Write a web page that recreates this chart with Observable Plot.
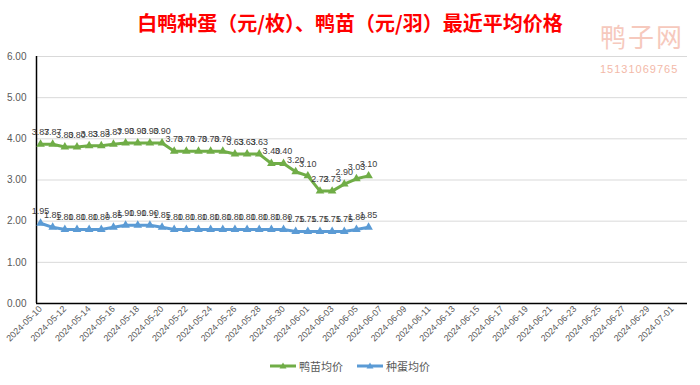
<!DOCTYPE html>
<html><head><meta charset="utf-8">
<script src="https://cdn.jsdelivr.net/npm/d3@7"></script>
<script src="https://cdn.jsdelivr.net/npm/@observablehq/plot@0.6"></script>
<style>
body{margin:0;background:#fff;width:700px;height:385px;overflow:hidden;position:relative;font-family:"Liberation Sans","Noto Sans CJK SC",sans-serif;}
#title{height:40px;line-height:46px;text-align:center;color:#ff0000;font-weight:bold;font-size:20px;font-family:"Noto Sans CJK SC",sans-serif;letter-spacing:0px;}
#legend{height:35px;display:flex;justify-content:center;align-items:center;gap:14px;font-size:11px;color:#595959;font-family:"Noto Sans CJK SC",sans-serif;padding-left:0px;margin-top:-2px}
.item{display:flex;align-items:center;gap:3px}
#wm{position:absolute;left:600px;top:22px;color:#f6c9bd;font-size:26px;font-family:"Noto Sans CJK SC",sans-serif;letter-spacing:2px;line-height:28px}
#wm2{position:absolute;left:600px;top:63px;color:#f3b9a8;font-size:11px;letter-spacing:1px}
</style></head>
<body>
<div id="title">白鸭种蛋（元/枚）、鸭苗（元/羽）最近平均价格</div>
<div id="chart"></div>
<div id="legend"></div>
<div id="wm">鸭子网</div>
<div id="wm2">15131069765</div>
<script>
const dates = ["2024-05-10","2024-05-11","2024-05-12","2024-05-13","2024-05-14","2024-05-15","2024-05-16","2024-05-17","2024-05-18","2024-05-19","2024-05-20","2024-05-21","2024-05-22","2024-05-23","2024-05-24","2024-05-25","2024-05-26","2024-05-27","2024-05-28","2024-05-29","2024-05-30","2024-05-31","2024-06-01","2024-06-02","2024-06-03","2024-06-04","2024-06-05","2024-06-06"];
const duckling = [3.87,3.87,3.80,3.80,3.83,3.83,3.87,3.90,3.90,3.90,3.90,3.70,3.70,3.70,3.70,3.70,3.63,3.63,3.63,3.40,3.40,3.20,3.10,2.73,2.73,2.90,3.03,3.10];
const eggs = [1.95,1.85,1.80,1.80,1.80,1.80,1.85,1.90,1.90,1.90,1.85,1.80,1.80,1.80,1.80,1.80,1.80,1.80,1.80,1.80,1.80,1.75,1.75,1.75,1.75,1.75,1.80,1.85];
const tickLabels = ["2024-05-10","2024-05-12","2024-05-14","2024-05-16","2024-05-18","2024-05-20","2024-05-22","2024-05-24","2024-05-26","2024-05-28","2024-05-30","2024-06-01","2024-06-03","2024-06-05","2024-06-07","2024-06-09","2024-06-11","2024-06-13","2024-06-15","2024-06-17","2024-06-19","2024-06-21","2024-06-23","2024-06-25","2024-06-27","2024-06-29","2024-07-01"];
const yTicks = [0,1,2,3,4,5,6];
const seriesNames = ["鸭苗均价","种蛋均价"];
const colors = ["#70ad47","#5b9bd5"];

const parse = d3.utcParse("%Y-%m-%d");
const rows = [];
dates.forEach((d,i)=>{
  rows.push({date:parse(d), v:duckling[i], s:seriesNames[0]});
  rows.push({date:parse(d), v:eggs[i], s:seriesNames[1]});
});
const fmt = d3.utcFormat("%Y-%m-%d");
const xDomain = [new Date(Date.UTC(2024,4,9,16)), new Date(Date.UTC(2024,6,2,6))];

const plot = Plot.plot({
  width:700, height:310,
  marginLeft:36, marginRight:13, marginTop:16, marginBottom:47,
  style:{fontFamily:"Liberation Sans, sans-serif", background:"transparent"},
  x:{type:"utc", domain:xDomain},
  y:{domain:[0,6]},
  color:{domain:seriesNames, range:colors},
  marks:[
    Plot.gridY(yTicks,{stroke:"#d9d9d9", strokeOpacity:1, strokeWidth:1}),
    Plot.axisY(yTicks,{tickSize:0, tickPadding:10, tickFormat:d=>d.toFixed(2), fontSize:10, fill:"#595959", label:null}),
    Plot.axisX(tickLabels.map(parse),{tickSize:0, tickPadding:4, tickRotate:-45, tickFormat:fmt, fontSize:9, fill:"#595959", label:null}),
    Plot.ruleY([0],{stroke:"#000", strokeWidth:1.5}),
    Plot.ruleX([xDomain[0]],{y1:0, y2:6, stroke:"#000", strokeWidth:1.5}),
    Plot.line(rows,{x:"date", y:"v", z:"s", stroke:"s", strokeWidth:3}),
    Plot.dot(rows,{x:"date", y:"v", fill:"s", symbol:"triangle", r:3.2}),
    Plot.text(rows,{x:"date", y:"v", text:d=>d.v.toFixed(2), dy:-12, fontSize:9, fill:"#404040"})
  ]
});
document.getElementById("chart").appendChild(plot);

const legend = document.getElementById("legend");
seriesNames.forEach((n,i)=>{
  const it = document.createElement("div"); it.className="item";
  it.innerHTML = `<svg width="26" height="10"><line x1="0" y1="5" x2="26" y2="5" stroke="${colors[i]}" stroke-width="3"/><path d="M13,1.5 L16.5,7.5 L9.5,7.5 Z" fill="${colors[i]}"/></svg><span>${n}</span>`;
  legend.appendChild(it);
});
</script>
</body></html>
